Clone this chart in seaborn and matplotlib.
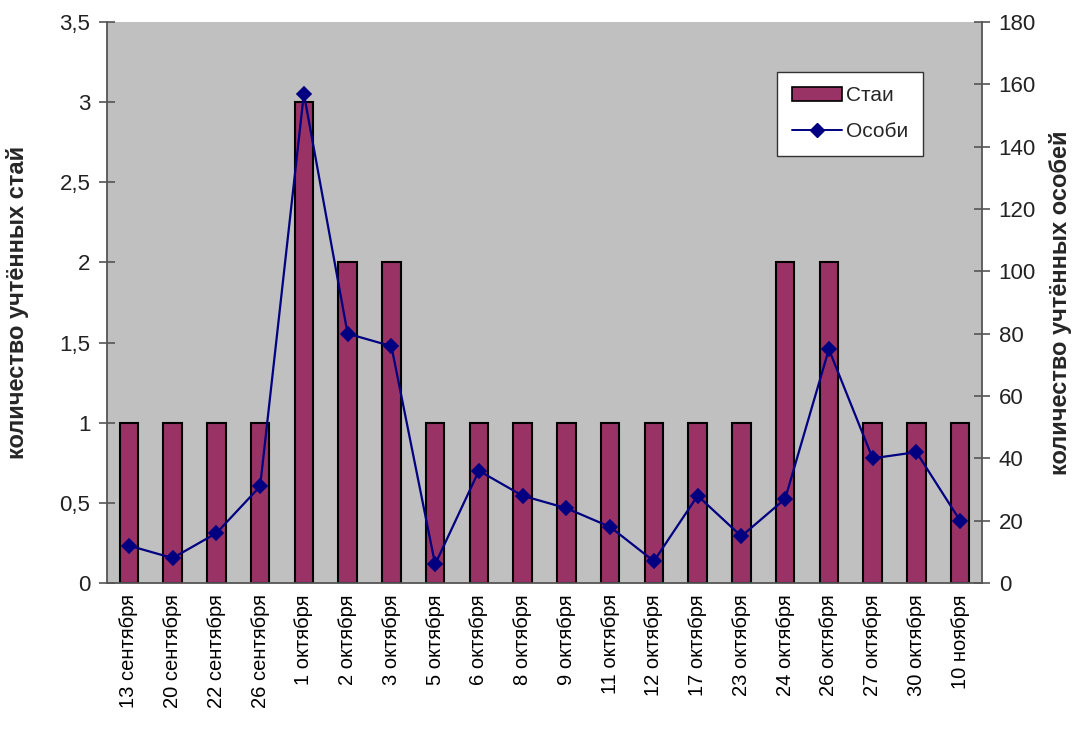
import matplotlib
matplotlib.use("Agg")
import matplotlib.pyplot as plt
from matplotlib.ticker import FuncFormatter, FixedLocator, MultipleLocator
from matplotlib.patches import Patch
from matplotlib.lines import Line2D
import seaborn as sns
import pandas as pd

dates = ["13 сентября", "20 сентября", "22 сентября", "26 сентября",
         "1 октября", "2 октября", "3 октября", "5 октября", "6 октября",
         "8 октября", "9 октября", "11 октября", "12 октября", "17 октября",
         "23 октября", "24 октября", "26 октября", "27 октября",
         "30 октября", "10 ноября"]
flocks = [1, 1, 1, 1, 3, 2, 2, 1, 1, 1, 1, 1, 1, 1, 1, 2, 2, 1, 1, 1]
birds = [12, 8, 16, 31, 157, 80, 76, 6, 36, 28, 24, 18, 7, 28, 15, 27, 75, 40, 42, 20]

df = pd.DataFrame({"date": dates, "flocks": flocks, "birds": birds})

sns.set_style("white")
plt.rcParams["font.family"] = ["Liberation Sans", "DejaVu Sans"]

bar_color = "#993366"
line_color = "#000080"
axis_color = "#555555"

fig = plt.figure(figsize=(10.8, 7.49), dpi=100)
ax = fig.add_axes([107 / 1080, 1 - 583 / 749, 875 / 1080, 561 / 749])
ax.set_facecolor("#C0C0C0")

sns.barplot(data=df, x="date", y="flocks", color=bar_color, width=0.42,
            edgecolor="black", linewidth=1.5, saturation=1, ax=ax, zorder=2)

ax2 = ax.twinx()
sns.pointplot(data=df, x="date", y="birds", color=line_color, markers="D",
              markersize=7, linewidth=1.6, ax=ax2, zorder=3)

ax.set_xlim(-0.5, len(dates) - 0.5)
ax.set_ylim(0, 3.5)
ax2.set_ylim(0, 180)
ax.yaxis.set_major_locator(MultipleLocator(0.5))
ax2.yaxis.set_major_locator(MultipleLocator(20))
ax.yaxis.set_major_formatter(FuncFormatter(lambda v, p: f"{v:g}".replace(".", ",")))

for a in (ax, ax2):
    for s in a.spines.values():
        s.set_visible(False)
ax.spines["left"].set_visible(True)
ax.spines["bottom"].set_visible(True)
ax2.spines["right"].set_visible(True)
for s in (ax.spines["left"], ax.spines["bottom"], ax2.spines["right"]):
    s.set_color(axis_color)
    s.set_linewidth(1.3)

# category labels centred under bars, tick marks between categories
ax.set_xticks(range(len(dates)))
ax.set_xticklabels(dates, rotation=90, va="top", ha="center")
ax.xaxis.set_minor_locator(FixedLocator([i - 0.5 for i in range(len(dates) + 1)]))
ax.tick_params(axis="x", which="major", length=0, pad=8, labelsize=14.5, colors="black")
ax.tick_params(axis="x", which="minor", length=7, width=1.2, color=axis_color, direction="out")
ax.tick_params(axis="y", length=12, width=1.2, color=axis_color, direction="inout",
               labelsize=16, labelcolor="#222222", pad=6)
ax2.tick_params(axis="y", length=12, width=1.2, color=axis_color, direction="inout",
                labelsize=16, labelcolor="#222222", pad=6)

ax.set_xlabel("")
ax.set_ylabel("количество учтённых стай", fontsize=17, fontweight="bold")
ax2.set_ylabel("количество учтённых особей", fontsize=17, fontweight="bold")
ax.yaxis.set_label_coords(-0.089, 0.5)
ax2.yaxis.set_label_coords(1.0766, 0.5)
ax.grid(False)
ax2.grid(False)

handles = [Patch(facecolor=bar_color, edgecolor="black", linewidth=1.2),
           Line2D([0], [0], color=line_color, marker="D", markersize=7, linewidth=1.4)]
leg = ax2.legend(handles, ["Стаи", "Особи"], loc="upper left",
                 bbox_to_anchor=(0.754, 0.93), frameon=True, fancybox=False,
                 framealpha=1.0, fontsize=15, handlelength=2.4, handletextpad=0.2,
                 borderpad=0.7, labelspacing=0.8)
leg.get_frame().set_edgecolor("#333333")
leg.get_frame().set_facecolor("white")
leg.get_frame().set_linewidth(1.0)

fig.savefig("out.png", dpi=100, facecolor="white")
